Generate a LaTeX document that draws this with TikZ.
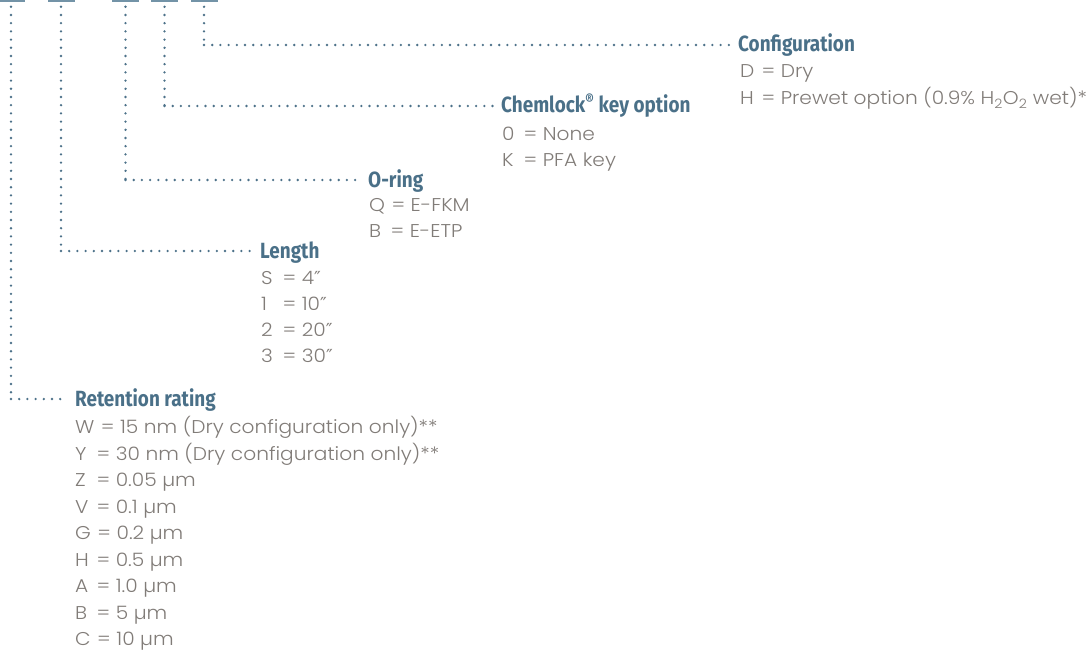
\documentclass[tikz,border=0pt]{standalone}
\usepackage{fontspec}
\setmainfont{Poppins}[UprightFont=* Light, FakeStretch=1.09]
\newfontfamily\hfont{Fira Sans}[UprightFont=* Bold, FakeStretch=0.86]
\newfontfamily\dvfont{DejaVu Sans}
\definecolor{headc}{HTML}{4A7088}
\definecolor{txtc}{HTML}{817C78}
\definecolor{dotc}{HTML}{4C7189}
\definecolor{barc}{HTML}{7393A7}
\newcommand\kk[1]{\setbox0=\hbox{#1}\ifdim\wd0<15pt\wd0=15pt\fi\box0\hskip 0.35em=\ }
\newcommand\inch{{\dvfont\fontsize{18}{20}\selectfont ″}}
\tikzset{
  head/.style={anchor=base west, inner sep=0pt, text=headc, font=\hfont\fontsize{22}{26}\selectfont},
  item/.style={anchor=base west, inner sep=0pt, text=txtc, font=\fontsize{18.5}{26}\selectfont},
  bar/.style={fill=barc, draw=none, minimum width=27pt, minimum height=1.6pt, inner sep=0pt},
  dotline/.style={draw=dotc, line width=2.6pt, line cap=round, dash pattern=on 0pt off 8.2pt},
}
\begin{document}
\begin{tikzpicture}[x=1pt,y=-1pt]
\useasboundingbox (0,0) rectangle (1092,650);
% bars
\node[bar] (bar1) at (11,0.8) {};
\node[bar] (bar2) at (61,0.8) {};
\node[bar] (bar3) at (125.5,0.8) {};
\node[bar] (bar4) at (164.5,0.8) {};
\node[bar] (bar5) at (204,0.8) {};
% headings
\node[head] (cfg) at (738,52) {Configuration};
\node[head] (chem) at (501,113) {Chemlock\textsuperscript{®} key option};
\node[head] (oring) at (368,187) {O-ring};
\node[head] (len) at (260,258) {Length};
\node[head] (ret) at (75,406) {Retention rating};
% items
\node[item] (cfg1) at (740,78) {\kk{D}Dry};
\node[item] (cfg2) at (740,105) {\kk{H}Prewet option (0.9\% H\textsubscript{2}O\textsubscript{2} wet)*};
\node[item] (chem1) at (502,141) {\kk{0}None};
\node[item] (chem2) at (502,167) {\kk{K}PFA key};
\node[item] (or1) at (369,211) {\kk{Q}E-FKM};
\node[item] (or2) at (369,237) {\kk{B}E-ETP};
\node[item] (len1) at (261,284) {\kk{S}4\inch};
\node[item] (len2) at (261,310) {\kk{1}10\inch};
\node[item] (len3) at (261,336) {\kk{2}20\inch};
\node[item] (len4) at (261,362) {\kk{3}30\inch};
\node[item] (r1) at (75,433) {\kk{W}15 nm (Dry configuration only)**};
\node[item] (r2) at (75,460) {\kk{Y}30 nm (Dry configuration only)**};
\node[item] (r3) at (75,486) {\kk{Z}0.05 µm};
\node[item] (r4) at (75,513) {\kk{V}0.1 µm};
\node[item] (r5) at (75,539) {\kk{G}0.2 µm};
\node[item] (r6) at (75,566) {\kk{H}0.5 µm};
\node[item] (r7) at (75,592) {\kk{A}1.0 µm};
\node[item] (r8) at (75,619) {\kk{B}5 µm};
\node[item] (r9) at (75,645) {\kk{C}10 µm};
% connector ends
\coordinate (cfgE) at ([shift={(-5pt,7pt)}]cfg.base west);
\coordinate (chemE) at ([shift={(-6pt,7pt)}]chem.base west);
\coordinate (oringE) at ([shift={(-6pt,7pt)}]oring.base west);
\coordinate (lenE) at ([shift={(-5pt,7pt)}]len.base west);
\coordinate (retE) at ([shift={(-8pt,7pt)}]ret.base west);
% connectors
\foreach \b/\e in {bar5/cfgE, bar4/chemE, bar3/oringE, bar2/lenE, bar1/retE}{
  \draw[dotline] ([yshift=-5pt]\b.south) -- (\b.south |- \e);
  \draw[dotline] (\b.south |- \e) -- (\e);
}
\end{tikzpicture}
\end{document}
